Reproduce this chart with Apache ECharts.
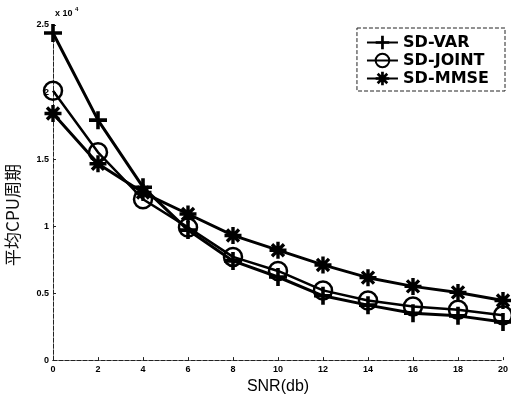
<!DOCTYPE html>
<html><head><meta charset="utf-8">
<script src="https://cdn.jsdelivr.net/npm/echarts@6/dist/echarts.min.js"></script>
<style>html,body{margin:0;padding:0;background:#fff}#c{width:511px;height:400px}</style>
</head><body><div id="c"></div>
<script>
var snr = [0, 2, 4, 6, 8, 10, 12, 14, 16, 18, 20];
var sdVar = [2.44, 1.79, 1.29, 0.97, 0.74, 0.62, 0.48, 0.41, 0.35, 0.33, 0.285];
var sdJoint = [2.01, 1.55, 1.20, 0.99, 0.77, 0.665, 0.52, 0.445, 0.40, 0.375, 0.335];
var sdMmse = [1.84, 1.465, 1.25, 1.09, 0.93, 0.82, 0.71, 0.615, 0.55, 0.505, 0.445];
var xTicks = [0, 2, 4, 6, 8, 10, 12, 14, 16, 18, 20];
var yTicks = [0, 0.5, 1, 1.5, 2, 2.5];

var plusPath = 'path://M40,0 L60,0 L60,40 L100,40 L100,60 L60,60 L60,100 L40,100 L40,60 L0,60 L0,40 L40,40 Z';
var starPath = 'path://M0,40 L100,40 L100,60 L0,60 Z M40,0 L60,0 L60,100 L40,100 Z M7.6,21.7 L21.7,7.6 L92.4,78.3 L78.3,92.4 Z M78.3,7.6 L92.4,21.7 L21.7,92.4 L7.6,78.3 Z';

function pair(arr){ return snr.map(function(x,i){ return [x, arr[i]]; }); }

var chart = echarts.init(document.getElementById('c'));
var axisLine = {show:true, lineStyle:{color:'#222', width:1, type:[4,2]}};
var lab = {fontFamily:'Liberation Sans, Arial', fontWeight:'bold', fontSize:9, color:'#000'};
chart.setOption({
  animation:false,
  backgroundColor:'#fff',
  grid:{left:53, right:5, top:25, bottom:32},
  xAxis:[{
    type:'value', min:0, max:20, interval:2,
    axisLine:axisLine, splitLine:{show:false},
    axisTick:{show:true, inside:true, length:3, lineStyle:{color:'#222'}},
    axisLabel:Object.assign({margin:5, formatter:function(v){return xTicks.indexOf(v)>=0? String(v):'';}}, lab),
    name:'SNR(db)', nameLocation:'middle', nameGap:18,
    nameTextStyle:{fontFamily:'Liberation Sans, Arial', fontSize:16, color:'#000'}
  },{
    type:'value', position:'top', min:0, max:20, interval:2,
    axisLine:axisLine, axisTick:{show:false}, axisLabel:{show:false}, splitLine:{show:false}
  }],
  yAxis:[{
    type:'value', min:0, max:2.5, interval:0.5,
    axisLine:axisLine, splitLine:{show:false},
    axisTick:{show:true, inside:true, length:3, lineStyle:{color:'#222'}},
    axisLabel:Object.assign({margin:4, formatter:function(v){return yTicks.indexOf(v)>=0? String(v):'';}}, lab)
  },{
    type:'value', position:'right', min:0, max:2.5, interval:0.5,
    axisLine:axisLine, axisTick:{show:false}, axisLabel:{show:false}, splitLine:{show:false}
  }],
  legend:{
    show:true, right:6, top:28, orient:'vertical', itemGap:1,
    itemWidth:31, itemHeight:17,
    backgroundColor:'#fff', borderColor:'#222', borderWidth:1, borderType:[4,2],
    padding:[6,16,4,9],
    textStyle:{fontFamily:'DejaVu Sans', fontSize:16, lineHeight:17, color:'#000', fontWeight:'bold'},
    data:['SD-VAR','SD-JOINT','SD-MMSE']
  },
  graphic:[
    {type:'text', left:55, top:9, style:{text:'x 10', fontFamily:'Liberation Sans, Arial', fontSize:9, fontWeight:'bold', fill:'#000'}},
    {type:'text', left:75, top:6, style:{text:'4', fontFamily:'Liberation Sans, Arial', fontSize:6, fontWeight:'bold', fill:'#000'}},
    {type:'text', x:13, y:215, rotation:Math.PI/2, style:{text:'平均CPU周期', fontFamily:'Noto Sans CJK SC', fontSize:17, fill:'#111', align:'center', verticalAlign:'middle'}}
  ],
  series:[
    {name:'SD-VAR', type:'line', data:pair(sdVar), symbol:plusPath, symbolSize:18,
     lineStyle:{color:'#000', width:3}, itemStyle:{color:'#000'}},
    {name:'SD-JOINT', type:'line', data:pair(sdJoint), symbol:'circle', symbolSize:18,
     lineStyle:{color:'#000', width:2.5}, itemStyle:{color:'rgba(255,255,255,0)', borderColor:'#000', borderWidth:2.5}},
    {name:'SD-MMSE', type:'line', data:pair(sdMmse), symbol:starPath, symbolSize:17,
     lineStyle:{color:'#000', width:3}, itemStyle:{color:'#000'}}
  ]
});
</script></body></html>
